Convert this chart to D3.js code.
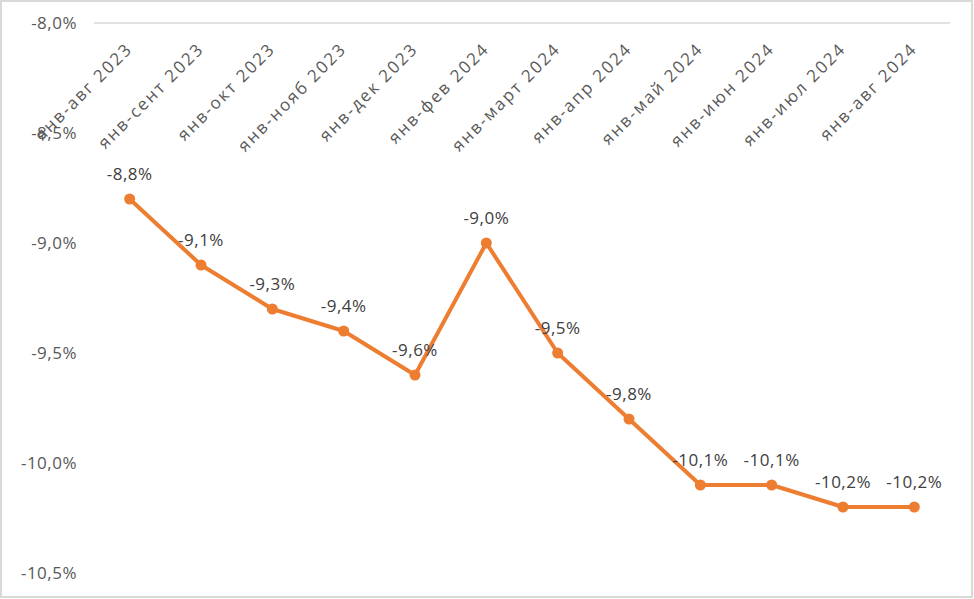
<!DOCTYPE html>
<html><head><meta charset="utf-8">
<script src="https://cdn.jsdelivr.net/npm/d3@7"></script>
<style>
html,body{margin:0;padding:0;background:#fff;}
svg{display:block;font-family:"Open Sans",sans-serif;}
</style></head>
<body>
<svg id="chart" width="974" height="599"></svg>
<script>
const categories = ["янв-авг 2023","янв-сент 2023","янв-окт 2023","янв-нояб 2023","янв-дек 2023","янв-фев 2024","янв-март 2024","янв-апр 2024","янв-май 2024","янв-июн 2024","янв-июл 2024","янв-авг 2024"];
const values = [-8.8,-9.1,-9.3,-9.4,-9.6,-9.0,-9.5,-9.8,-10.1,-10.1,-10.2,-10.2];
const yTicks = [-8.0,-8.5,-9.0,-9.5,-10.0,-10.5];

(function(){
const svg = d3.select("#chart");
const W = 974, H = 599;
const mL = 94, mR = 950, mT = 23, mB = 573;
const fmt = v => d3.format(".1f")(v).replace("−","-").replace(".",",") + "%";

svg.append("rect").attr("x",1).attr("y",1).attr("width",W-3).attr("height",H-3)
  .attr("fill","#fff").attr("stroke","#d9d9d9").attr("stroke-width",2);

const x = d3.scaleBand().domain(categories).range([mL,mR]);
const y = d3.scaleLinear().domain([-10.5,-8.0]).range([mB,mT]);

svg.append("line").attr("x1",mL).attr("x2",mR).attr("y1",y(-8.0)).attr("y2",y(-8.0))
  .attr("stroke","#d9d9d9").attr("stroke-width",1.5);

const yAxis = d3.axisLeft(y).tickValues(yTicks).tickFormat(fmt).tickSize(0).tickPadding(0);
const ga = svg.append("g").attr("transform",`translate(77,0)`).call(yAxis);
ga.select(".domain").remove();
ga.selectAll("text").attr("fill","#595959").attr("font-size",17).style("font-family","'Open Sans',sans-serif").attr("letter-spacing",0.5);

const xAxis = d3.axisTop(x).tickSize(0).tickPadding(0);
const gx = svg.append("g").attr("transform",`translate(0,${y(-8.0)})`).call(xAxis);
gx.select(".domain").remove();
gx.selectAll("text")
  .attr("fill","#595959").attr("font-size",17).style("font-family","'Open Sans',sans-serif")
  .attr("letter-spacing",2)
  .attr("text-anchor","end").attr("dy",null).attr("y",0)
  .attr("transform","translate(4,27) rotate(-45)");

const cx = d => x(d) + x.bandwidth()/2;

const line = d3.line().x((d,i)=>cx(categories[i])).y(d=>y(d));
svg.append("path").datum(values).attr("d",line).attr("fill","none")
  .attr("stroke","#ED7D31").attr("stroke-width",4).attr("stroke-linejoin","round");

svg.selectAll("circle.pt").data(values).enter().append("circle").attr("class","pt")
  .attr("cx",(d,i)=>cx(categories[i])).attr("cy",d=>y(d)).attr("r",5.5).attr("fill","#ED7D31");

svg.selectAll("text.lbl").data(values).enter().append("text").attr("class","lbl")
  .attr("x",(d,i)=>cx(categories[i])).attr("y",d=>y(d)-19)
  .attr("text-anchor","middle").attr("fill","#404040").attr("font-size",17).attr("letter-spacing",0.5)
  .text(fmt);
})();
</script>
</body></html>
